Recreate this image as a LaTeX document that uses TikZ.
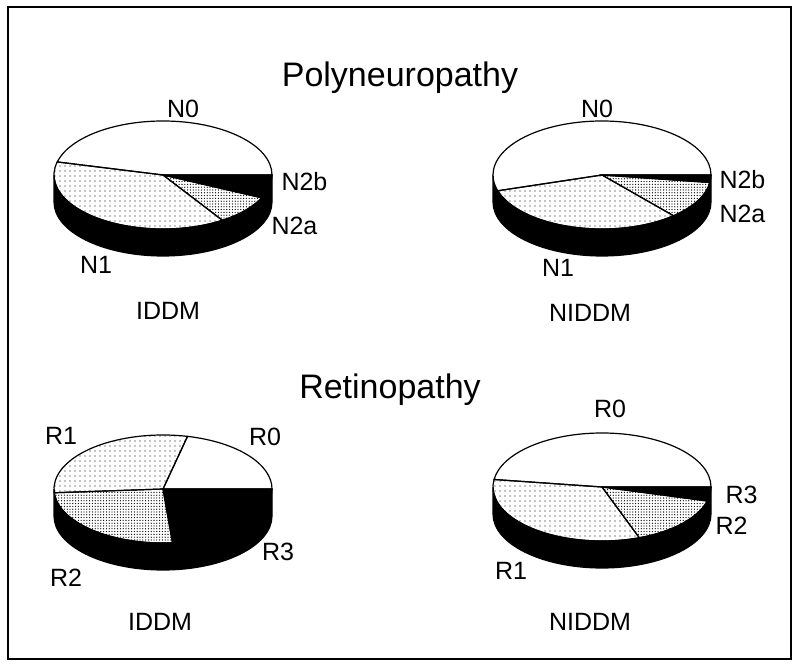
\documentclass[tikz,border=0pt]{standalone}
\usepackage{fontspec}
\setmainfont{Liberation Sans}
\usetikzlibrary{patterns.meta}

\begin{document}
\begin{tikzpicture}[x=1pt,y=1pt]
    % Define pie radii and depth
    \def\rx{109}
    \def\ry{54}
    \def\d{27}
    % Define fills
    \tikzset{
        sparse/.style={pattern={Dots[distance=5pt,radius=0.65pt]}},
        dense/.style={pattern={Dots[distance=2.8pt,radius=0.65pt]}},
        solid/.style={fill=black},
        blank/.style={fill=white},
        lbl/.style={font=\fontsize{25}{28}\selectfont},
        ttl/.style={font=\fontsize{34}{38}\selectfont}
    }
    \newcommand{\pieside}{%
        \filldraw[black,line width=1.2pt] (-\rx,0) -- (-\rx,-\d) arc[start angle=180,end angle=360,x radius=\rx pt,y radius=\ry pt]
            -- (\rx,0) arc[start angle=0,end angle=-180,x radius=\rx pt,y radius=\ry pt] -- cycle;
    }
    \newcommand{\pieslice}[3]{%
        \filldraw[line width=1.2pt,#3,draw=black] (0,0) -- ({\rx*cos(#1)},{\ry*sin(#1)})
            arc[start angle=#1,end angle=#2,x radius=\rx pt,y radius=\ry pt] -- cycle;
    }

    \useasboundingbox (0,0) rectangle (800,666);
    \draw[line width=1.8pt] (8,7) rectangle (791,659);

    \node[ttl] (poly) at (400,588) {Polyneuropathy};
    \node[ttl] (reti) at (390,276) {Retinopathy};

    % 1. Polyneuropathy, IDDM
    \begin{scope}[shift={(163,491)}]
        \pieside
        \pieslice{0}{166}{blank}
        \pieslice{166}{303}{sparse}
        \pieslice{303}{335}{dense}
        \pieslice{335}{360}{solid}
    \end{scope}
    \node[lbl] (n0a) at (183,557) {N0};
    \node[lbl,anchor=west] (n2ba) at (278,484) {N2b};
    \node[lbl,anchor=west] (n2aa) at (268,440) {N2a};
    \node[lbl] (n1a) at (96,401) {N1};
    \node[lbl] (iddma) at (168,355) {IDDM};

    % 2. Polyneuropathy, NIDDM
    \begin{scope}[shift={(602,491)}]
        \pieside
        \pieslice{0}{197}{blank}
        \pieslice{197}{311}{sparse}
        \pieslice{311}{352}{dense}
        \pieslice{352}{360}{solid}
    \end{scope}
    \node[lbl] (n0b) at (597,557) {N0};
    \node[lbl,anchor=west] (n2bb) at (716,486) {N2b};
    \node[lbl,anchor=west] (n2ab) at (716,452) {N2a};
    \node[lbl] (n1b) at (558,398) {N1};
    \node[lbl] (niddma) at (590,353) {NIDDM};

    % 3. Retinopathy, IDDM
    \begin{scope}[shift={(163,177)}]
        \pieside
        \pieslice{0}{77}{blank}
        \pieslice{77}{184}{sparse}
        \pieslice{184}{275}{dense}
        \pieslice{275}{360}{solid}
    \end{scope}
    \node[lbl] (r1a) at (61,230) {R1};
    \node[lbl] (r0a) at (265,229) {R0};
    \node[lbl] (r3a) at (278,114) {R3};
    \node[lbl] (r2a) at (66,88) {R2};
    \node[lbl] (iddmb) at (160,44) {IDDM};

    % 4. Retinopathy, NIDDM
    \begin{scope}[shift={(602,179)}]
        \pieside
        \pieslice{0}{172}{blank}
        \pieslice{172}{290}{sparse}
        \pieslice{290}{345}{dense}
        \pieslice{345}{360}{solid}
    \end{scope}
    \node[lbl] (r0b) at (610,257) {R0};
    \node[lbl,anchor=west] (r3b) at (722,171) {R3};
    \node[lbl,anchor=west] (r2b) at (712,140) {R2};
    \node[lbl] (r1b) at (511,95) {R1};
    \node[lbl] (niddmb) at (590,44) {NIDDM};
\end{tikzpicture}
\end{document}
